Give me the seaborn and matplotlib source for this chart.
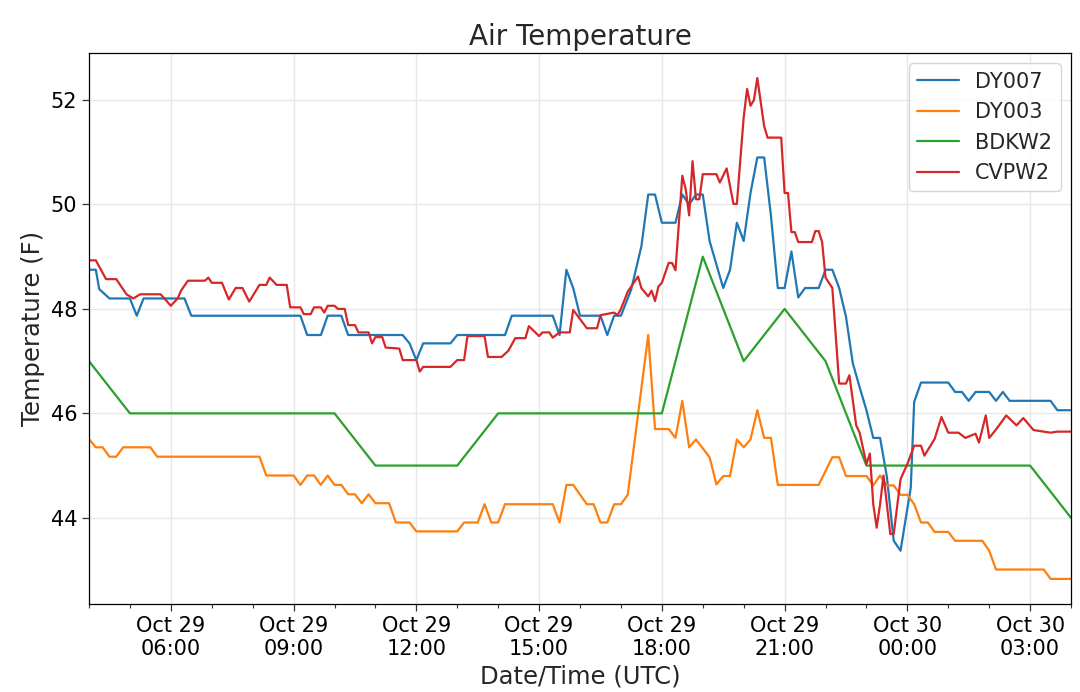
import pandas as pd
import matplotlib
matplotlib.use("Agg")
import matplotlib.pyplot as plt
import matplotlib.dates as mdates
import seaborn as sns

# station order / colours as in the legend
stations = ["DY007", "DY003", "BDKW2", "CVPW2"]
colors = ["#1f77b4", "#ff7f0e", "#2ca02c", "#d62728"]

# readings, Oct 29 04:00 UTC -> Oct 30 04:00 UTC (deg F)
dy007_time = ["04:00", "04:10", "04:15", "04:30", "05:00", "05:10", "05:20", "06:20", "06:30", "09:10",
              "09:20", "09:40", "09:50", "10:10", "10:20", "11:40", "11:50", "12:00", "12:10", "12:50",
              "13:00", "14:10", "14:20", "15:20", "15:30", "15:40", "15:50", "16:00", "16:30", "16:40",
              "16:50", "17:00", "17:15", "17:30", "17:40", "17:50", "18:00", "18:20", "18:30", "18:40",
              "18:50", "19:00", "19:10", "19:30", "19:40", "19:50", "20:00", "20:10", "20:20", "20:30",
              "20:40", "20:50", "21:00", "21:10", "21:20", "21:30", "21:50", "22:00", "22:10", "22:20",
              "22:30", "22:40", "22:50", "23:00", "23:10", "23:20", "23:30", "23:40", "23:50", "00:05",
              "00:10", "00:20", "01:00", "01:10", "01:20", "01:30", "01:40", "02:00", "02:10", "02:20",
              "02:30", "03:30", "03:40", "04:00"]
dy007_temp = [48.75, 48.75, 48.38, 48.2, 48.2, 47.87, 48.2, 48.2, 47.87, 47.87,
              47.5, 47.5, 47.87, 47.87, 47.5, 47.5, 47.34, 47.02, 47.34, 47.34,
              47.5, 47.5, 47.87, 47.87, 47.5, 48.75, 48.4, 47.87, 47.87, 47.5,
              47.87, 47.87, 48.37, 49.2, 50.19, 50.19, 49.65, 49.65, 50.19, 50.0,
              50.19, 50.19, 49.3, 48.4, 48.75, 49.65, 49.3, 50.22, 50.9, 50.9,
              49.78, 48.4, 48.4, 49.1, 48.22, 48.4, 48.4, 48.75, 48.75, 48.4,
              47.85, 46.96, 46.5, 46.06, 45.53, 45.53, 44.78, 43.56, 43.37, 44.58,
              46.22, 46.59, 46.59, 46.41, 46.41, 46.24, 46.41, 46.41, 46.24, 46.41,
              46.24, 46.24, 46.06, 46.06]

dy003_time = ["04:00", "04:10", "04:20", "04:30", "04:40", "04:50", "05:30", "05:40", "08:10", "08:20",
              "09:00", "09:10", "09:20", "09:30", "09:40", "09:50", "10:00", "10:10", "10:20", "10:30",
              "10:40", "10:50", "11:00", "11:20", "11:30", "11:50", "12:00", "13:00", "13:10", "13:30",
              "13:40", "13:50", "14:00", "14:10", "15:20", "15:30", "15:40", "15:50", "16:10", "16:20",
              "16:30", "16:40", "16:50", "17:00", "17:10", "17:40", "17:50", "18:10", "18:20", "18:30",
              "18:40", "18:50", "19:10", "19:20", "19:30", "19:40", "19:50", "20:00", "20:10", "20:20",
              "20:30", "20:40", "20:50", "21:50", "22:10", "22:20", "22:30", "23:00", "23:10", "23:20",
              "23:30", "23:40", "23:50", "00:00", "00:10", "00:20", "00:30", "00:40", "01:00", "01:10",
              "01:50", "02:00", "02:10", "03:20", "03:30", "04:00"]
dy003_temp = [45.51, 45.35, 45.35, 45.17, 45.17, 45.35, 45.35, 45.17, 45.17, 44.81,
              44.81, 44.63, 44.81, 44.81, 44.63, 44.81, 44.63, 44.63, 44.45, 44.45,
              44.28, 44.45, 44.28, 44.28, 43.91, 43.91, 43.74, 43.74, 43.91, 43.91,
              44.26, 43.91, 43.91, 44.26, 44.26, 43.91, 44.63, 44.63, 44.26, 44.26,
              43.91, 43.91, 44.26, 44.26, 44.44, 47.5, 45.7, 45.7, 45.53, 46.24,
              45.35, 45.5, 45.16, 44.64, 44.8, 44.8, 45.5, 45.35, 45.5, 46.06,
              45.53, 45.53, 44.63, 44.63, 45.16, 45.16, 44.8, 44.8, 44.62, 44.81,
              44.62, 44.62, 44.44, 44.44, 44.26, 43.91, 43.91, 43.73, 43.73, 43.56,
              43.56, 43.37, 43.01, 43.01, 42.83, 42.83]

bdkw2_time = ["04:00", "05:00", "06:00", "07:00", "08:00", "09:00", "10:00", "11:00", "12:00", "13:00",
              "14:00", "15:00", "16:00", "17:00", "18:00", "19:00", "20:00", "21:00", "22:00", "23:00",
              "00:00", "01:00", "02:00", "03:00", "04:00"]
bdkw2_temp = [47, 46, 46, 46, 46, 46, 46, 45, 45, 45,
              46, 46, 46, 46, 46, 49, 47, 48, 47, 45,
              45, 45, 45, 45, 44]

cvpw2_time = ["04:00", "04:10", "04:25", "04:40", "04:55", "05:05", "05:15", "05:45", "06:00", "06:10",
              "06:15", "06:25", "06:50", "06:55", "07:00", "07:15", "07:25", "07:35", "07:45", "07:55",
              "08:10", "08:20", "08:25", "08:35", "08:50", "08:55", "09:10", "09:15", "09:25", "09:30",
              "09:40", "09:45", "09:50", "10:00", "10:05", "10:15", "10:20", "10:30", "10:35", "10:50",
              "10:55", "11:00", "11:10", "11:15", "11:35", "11:40", "12:00", "12:05", "12:10", "12:50",
              "13:00", "13:10", "13:15", "13:40", "13:45", "14:05", "14:15", "14:25", "14:40", "14:45",
              "15:00", "15:05", "15:15", "15:20", "15:30", "15:45", "15:50", "16:10", "16:25", "16:30",
              "16:50", "16:55", "17:00", "17:10", "17:25", "17:30", "17:40", "17:45", "17:50", "17:55",
              "18:00", "18:10", "18:15", "18:20", "18:30", "18:35", "18:40", "18:45", "18:50", "18:55",
              "19:00", "19:20", "19:25", "19:35", "19:45", "19:50", "20:00", "20:05", "20:10", "20:15",
              "20:20", "20:30", "20:35", "20:55", "21:00", "21:05", "21:10", "21:15", "21:20", "21:40",
              "21:45", "21:50", "21:55", "22:00", "22:10", "22:20", "22:30", "22:35", "22:45", "22:50",
              "23:00", "23:05", "23:10", "23:15", "23:20", "23:25", "23:35", "23:40", "23:50", "00:00",
              "00:10", "00:20", "00:25", "00:40", "00:50", "01:00", "01:15", "01:25", "01:40", "01:45",
              "01:55", "02:00", "02:10", "02:25", "02:40", "02:50", "03:05", "03:20", "03:30", "03:40",
              "04:00"]
cvpw2_temp = [48.93, 48.93, 48.57, 48.57, 48.28, 48.2, 48.28, 48.28, 48.06, 48.2,
              48.35, 48.54, 48.54, 48.6, 48.5, 48.5, 48.18, 48.4, 48.4, 48.14,
              48.46, 48.46, 48.6, 48.46, 48.46, 48.03, 48.03, 47.9, 47.9, 48.03,
              48.03, 47.93, 48.06, 48.06, 48.0, 48.0, 47.69, 47.69, 47.55, 47.55,
              47.34, 47.46, 47.46, 47.26, 47.24, 47.02, 47.02, 46.8, 46.89, 46.89,
              47.02, 47.02, 47.48, 47.48, 47.08, 47.08, 47.2, 47.44, 47.44, 47.67,
              47.48, 47.55, 47.55, 47.45, 47.55, 47.55, 47.98, 47.63, 47.63, 47.88,
              47.93, 47.88, 48.0, 48.33, 48.62, 48.4, 48.24, 48.35, 48.15, 48.43,
              48.5, 48.88, 48.88, 48.74, 50.55, 50.29, 49.79, 50.83, 50.1, 50.1,
              50.58, 50.58, 50.42, 50.69, 50.01, 50.01, 51.67, 52.21, 51.89, 52.0,
              52.42, 51.5, 51.28, 51.28, 50.22, 50.22, 49.47, 49.47, 49.28, 49.28,
              49.49, 49.49, 49.28, 48.6, 48.4, 46.57, 46.57, 46.73, 45.77, 45.63,
              45.03, 45.23, 44.26, 43.81, 44.26, 44.81, 43.69, 43.69, 44.74, 45.03,
              45.38, 45.38, 45.19, 45.51, 45.93, 45.63, 45.63, 45.53, 45.61, 45.44,
              45.96, 45.53, 45.69, 45.96, 45.77, 45.91, 45.68, 45.65, 45.63, 45.65,
              45.65]


def to_times(hhmm, start="2019-10-29"):
    # HH:MM strings -> timestamps, rolling over to the next day at midnight
    out, day, prev = [], 0, None
    for s in hhmm:
        t = pd.Timedelta(hours=int(s[:2]), minutes=int(s[3:]))
        if prev is not None and t < prev:
            day += 1
        prev = t
        out.append(pd.Timestamp(start) + pd.Timedelta(days=day) + t)
    return out


series = {
    "DY007": (dy007_time, dy007_temp),
    "DY003": (dy003_time, dy003_temp),
    "BDKW2": (bdkw2_time, bdkw2_temp),
    "CVPW2": (cvpw2_time, cvpw2_temp),
}
dfs = []
for name, (times, temps) in series.items():
    dfs.append(pd.DataFrame({"time": to_times(times), "temp": temps, "station": name}))
df = pd.concat(dfs, ignore_index=True)

sns.set_style("ticks")
plt.rcParams["font.family"] = ["DejaVu Sans"]

fig, ax = plt.subplots(figsize=(10.8, 6.92), dpi=100)
fig.subplots_adjust(left=0.0824, right=0.9917, top=0.9234, bottom=0.1272)

sns.lineplot(data=df, x="time", y="temp", hue="station", hue_order=stations,
             palette=colors, estimator=None, linewidth=1.6, ax=ax)

ax.set_xlim(pd.Timestamp("2019-10-29 04:00"), pd.Timestamp("2019-10-30 04:00"))
ax.set_ylim(42.35, 52.9)
ax.set_yticks([44, 46, 48, 50, 52])
ax.xaxis.set_major_locator(mdates.HourLocator(byhour=range(0, 24, 3)))
ax.xaxis.set_minor_locator(mdates.HourLocator())
ax.xaxis.set_major_formatter(mdates.DateFormatter("%b %d\n%H:%M"))

ax.grid(True, which="major", color="#e8e8e8", linewidth=1)
for sp in ax.spines.values():
    sp.set_visible(True)
    sp.set_color("black")
    sp.set_linewidth(0.9)
ax.tick_params(axis="both", which="major", labelsize=15, length=5, width=0.9,
               color="#333333", labelcolor="black")
ax.tick_params(axis="x", which="minor", length=3, width=0.8, color="#333333")

ax.set_title("Air Temperature", fontsize=20)
ax.set_xlabel("Date/Time (UTC)", fontsize=17.5)
ax.set_ylabel("Temperature (F)", fontsize=17.5)

handles, labels = ax.get_legend_handles_labels()
ax.legend(handles, labels, loc="upper right", fontsize=15, frameon=True,
          framealpha=0.8, edgecolor="#cccccc", fancybox=True)

fig.savefig("out.png", dpi=100)
